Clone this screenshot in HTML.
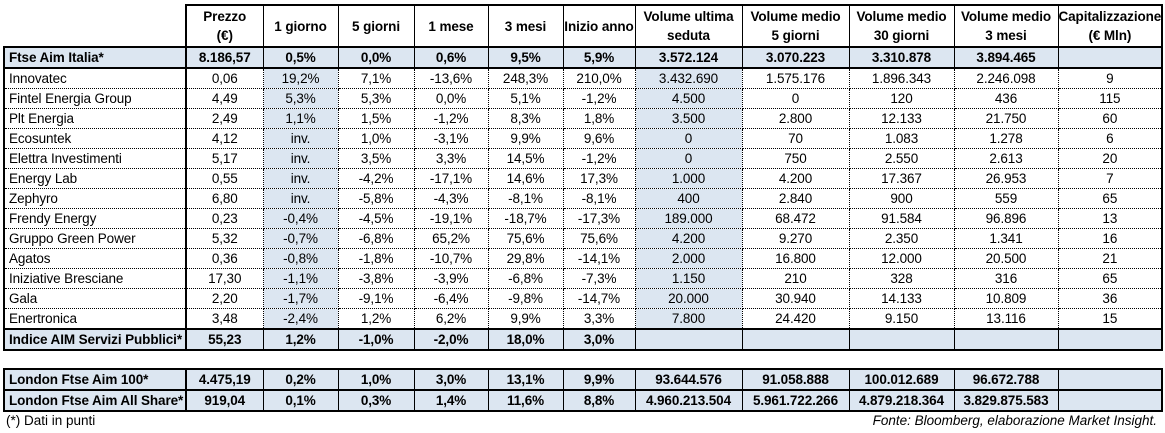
<!DOCTYPE html>
<html><head><meta charset="utf-8">
<style>
html,body{margin:0;padding:0;background:#fff;width:1165px;height:433px;overflow:hidden;}
body{font-family:"Liberation Sans",sans-serif;font-size:13.5px;color:#000;position:relative;}
table{position:absolute;left:3px;border-collapse:collapse;table-layout:fixed;}
td{padding:0;text-align:center;white-space:nowrap;overflow:hidden;height:19px;line-height:19px;letter-spacing:-0.1px;}
td.l{text-align:left;padding-left:4px;}
.b td{font-weight:bold;background:#dce6f1;border:1px solid #000;border-top:2px solid #000;border-bottom:2px solid #000;}
.d td{border-left:1px dotted #000;border-right:1px dotted #000;border-bottom:1px dotted #000;}
.d td:nth-child(3),.d td:nth-child(8){background:#dce6f1;}
td.first{border-left:2px solid #000 !important;border-right:2px solid #000 !important;}
td.last{border-right:2px solid #000 !important;}
#t1 tr.h td{font-weight:bold;height:40px;line-height:19px;border:1px solid #000;border-top:2px solid #000;border-bottom:2px solid #000;}
#t1 tr.h td.e{border:none;border-right:2px solid #000;}
.note{position:absolute;font-size:13.5px;}
</style></head><body>
<table id="t1" style="top:4px">
<colgroup><col style="width:182px"><col style="width:77px"><col style="width:75px"><col style="width:76px"><col style="width:74px"><col style="width:75px"><col style="width:72px"><col style="width:107px"><col style="width:107px"><col style="width:105px"><col style="width:104px"><col style="width:104px"></colgroup>
<tr class="h"><td class="e"></td><td>Prezzo<br>(€)</td><td>1 giorno</td><td>5 giorni</td><td>1 mese</td><td>3 mesi</td><td>Inizio anno</td><td>Volume ultima<br>seduta</td><td>Volume medio<br>5 giorni</td><td>Volume medio<br>30 giorni</td><td>Volume medio<br>3 mesi</td><td class="last">Capitalizzazione<br>(€ Mln)</td></tr>
<tr class="b"><td class="l first">Ftse Aim Italia*</td><td>8.186,57</td><td>0,5%</td><td>0,0%</td><td>0,6%</td><td>9,5%</td><td>5,9%</td><td>3.572.124</td><td>3.070.223</td><td>3.310.878</td><td>3.894.465</td><td class="last"></td></tr>
<tr class="d"><td class="l first">Innovatec</td><td>0,06</td><td>19,2%</td><td>7,1%</td><td>-13,6%</td><td>248,3%</td><td>210,0%</td><td>3.432.690</td><td>1.575.176</td><td>1.896.343</td><td>2.246.098</td><td class="last">9</td></tr>
<tr class="d"><td class="l first">Fintel Energia Group</td><td>4,49</td><td>5,3%</td><td>5,3%</td><td>0,0%</td><td>5,1%</td><td>-1,2%</td><td>4.500</td><td>0</td><td>120</td><td>436</td><td class="last">115</td></tr>
<tr class="d"><td class="l first">Plt Energia</td><td>2,49</td><td>1,1%</td><td>1,5%</td><td>-1,2%</td><td>8,3%</td><td>1,8%</td><td>3.500</td><td>2.800</td><td>12.133</td><td>21.750</td><td class="last">60</td></tr>
<tr class="d"><td class="l first">Ecosuntek</td><td>4,12</td><td>inv.</td><td>1,0%</td><td>-3,1%</td><td>9,9%</td><td>9,6%</td><td>0</td><td>70</td><td>1.083</td><td>1.278</td><td class="last">6</td></tr>
<tr class="d"><td class="l first">Elettra Investimenti</td><td>5,17</td><td>inv.</td><td>3,5%</td><td>3,3%</td><td>14,5%</td><td>-1,2%</td><td>0</td><td>750</td><td>2.550</td><td>2.613</td><td class="last">20</td></tr>
<tr class="d"><td class="l first">Energy Lab</td><td>0,55</td><td>inv.</td><td>-4,2%</td><td>-17,1%</td><td>14,6%</td><td>17,3%</td><td>1.000</td><td>4.200</td><td>17.367</td><td>26.953</td><td class="last">7</td></tr>
<tr class="d"><td class="l first">Zephyro</td><td>6,80</td><td>inv.</td><td>-5,8%</td><td>-4,3%</td><td>-8,1%</td><td>-8,1%</td><td>400</td><td>2.840</td><td>900</td><td>559</td><td class="last">65</td></tr>
<tr class="d"><td class="l first">Frendy Energy</td><td>0,23</td><td>-0,4%</td><td>-4,5%</td><td>-19,1%</td><td>-18,7%</td><td>-17,3%</td><td>189.000</td><td>68.472</td><td>91.584</td><td>96.896</td><td class="last">13</td></tr>
<tr class="d"><td class="l first">Gruppo Green Power</td><td>5,32</td><td>-0,7%</td><td>-6,8%</td><td>65,2%</td><td>75,6%</td><td>75,6%</td><td>4.200</td><td>9.270</td><td>2.350</td><td>1.341</td><td class="last">16</td></tr>
<tr class="d"><td class="l first">Agatos</td><td>0,36</td><td>-0,8%</td><td>-1,8%</td><td>-10,7%</td><td>29,8%</td><td>-14,1%</td><td>2.000</td><td>16.800</td><td>12.000</td><td>20.500</td><td class="last">21</td></tr>
<tr class="d"><td class="l first">Iniziative Bresciane</td><td>17,30</td><td>-1,1%</td><td>-3,8%</td><td>-3,9%</td><td>-6,8%</td><td>-7,3%</td><td>1.150</td><td>210</td><td>328</td><td>316</td><td class="last">65</td></tr>
<tr class="d"><td class="l first">Gala</td><td>2,20</td><td>-1,7%</td><td>-9,1%</td><td>-6,4%</td><td>-9,8%</td><td>-14,7%</td><td>20.000</td><td>30.940</td><td>14.133</td><td>10.809</td><td class="last">36</td></tr>
<tr class="d"><td class="l first">Enertronica</td><td>3,48</td><td>-2,4%</td><td>1,2%</td><td>6,2%</td><td>9,9%</td><td>3,3%</td><td>7.800</td><td>24.420</td><td>9.150</td><td>13.116</td><td class="last">15</td></tr>
<tr class="b"><td class="l first">Indice AIM Servizi Pubblici*</td><td>55,23</td><td>1,2%</td><td>-1,0%</td><td>-2,0%</td><td>18,0%</td><td>3,0%</td><td></td><td></td><td></td><td></td><td class="last"></td></tr>
</table>
<table id="t2" style="top:368px">
<colgroup><col style="width:182px"><col style="width:77px"><col style="width:75px"><col style="width:76px"><col style="width:74px"><col style="width:75px"><col style="width:72px"><col style="width:107px"><col style="width:107px"><col style="width:105px"><col style="width:104px"><col style="width:104px"></colgroup>
<tr class="b"><td class="l first">London Ftse Aim 100*</td><td>4.475,19</td><td>0,2%</td><td>1,0%</td><td>3,0%</td><td>13,1%</td><td>9,9%</td><td>93.644.576</td><td>91.058.888</td><td>100.012.689</td><td>96.672.788</td><td class="last"></td></tr>
<tr class="b"><td class="l first">London Ftse Aim All Share*</td><td>919,04</td><td>0,1%</td><td>0,3%</td><td>1,4%</td><td>11,6%</td><td>8,8%</td><td>4.960.213.504</td><td>5.961.722.266</td><td>4.879.218.364</td><td>3.829.875.583</td><td class="last"></td></tr>
</table>
<div class="note" style="left:6px;top:413px">(*) Dati in punti</div>
<div class="note" style="right:8px;top:413px;font-style:italic">Fonte: Bloomberg, elaborazione Market Insight.</div>
</body></html>
